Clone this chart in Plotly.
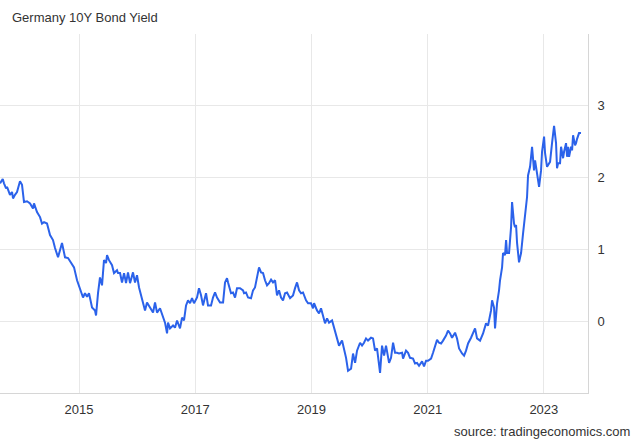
import plotly.graph_objects as go

# Decimal-year dates
years = [
    2013.640, 2013.687, 2013.709, 2013.744, 2013.761, 2013.812, 2013.847, 2013.864, 2013.898, 2013.933,
    2013.984, 2014.019, 2014.053, 2014.105, 2014.157, 2014.208, 2014.225, 2014.277, 2014.329, 2014.363,
    2014.398, 2014.449, 2014.501, 2014.552, 2014.587, 2014.639, 2014.707, 2014.759, 2014.811, 2014.880,
    2014.914, 2014.966, 2015.017, 2015.069, 2015.103, 2015.138, 2015.172, 2015.224, 2015.275, 2015.293,
    2015.327, 2015.361, 2015.396, 2015.430, 2015.465, 2015.482, 2015.516, 2015.568, 2015.602, 2015.654,
    2015.671, 2015.706, 2015.740, 2015.775, 2015.809, 2015.843, 2015.878, 2015.929, 2015.964, 2015.998,
    2016.033, 2016.084, 2016.136, 2016.170, 2016.222, 2016.274, 2016.308, 2016.343, 2016.394, 2016.446,
    2016.480, 2016.515, 2016.532, 2016.566, 2016.618, 2016.652, 2016.687, 2016.738, 2016.773, 2016.807,
    2016.842, 2016.876, 2016.911, 2016.945, 2016.979, 2017.031, 2017.065, 2017.100, 2017.134, 2017.186,
    2017.220, 2017.272, 2017.306, 2017.341, 2017.375, 2017.427, 2017.479, 2017.513, 2017.547, 2017.565,
    2017.616, 2017.651, 2017.685, 2017.719, 2017.771, 2017.823, 2017.840, 2017.874, 2017.909, 2017.960,
    2017.995, 2018.029, 2018.064, 2018.098, 2018.133, 2018.167, 2018.201, 2018.236, 2018.270, 2018.305,
    2018.339, 2018.374, 2018.408, 2018.442, 2018.477, 2018.511, 2018.546, 2018.580, 2018.632, 2018.683,
    2018.718, 2018.752, 2018.787, 2018.821, 2018.855, 2018.907, 2018.942, 2018.993, 2019.028, 2019.045,
    2019.096, 2019.131, 2019.165, 2019.200, 2019.234, 2019.269, 2019.303, 2019.355, 2019.389, 2019.441,
    2019.475, 2019.527, 2019.561, 2019.596, 2019.630, 2019.682, 2019.716, 2019.751, 2019.785, 2019.837,
    2019.871, 2019.905, 2019.940, 2019.974, 2020.026, 2020.060, 2020.095, 2020.129, 2020.181, 2020.215,
    2020.250, 2020.284, 2020.336, 2020.370, 2020.405, 2020.439, 2020.473, 2020.508, 2020.560, 2020.577,
    2020.628, 2020.663, 2020.697, 2020.749, 2020.783, 2020.818, 2020.852, 2020.904, 2020.938, 2020.973,
    2021.007, 2021.059, 2021.093, 2021.128, 2021.162, 2021.196, 2021.231, 2021.265, 2021.317, 2021.351,
    2021.386, 2021.420, 2021.472, 2021.506, 2021.541, 2021.592, 2021.627, 2021.661, 2021.696, 2021.747,
    2021.782, 2021.816, 2021.850, 2021.902, 2021.954, 2022.005, 2022.040, 2022.091, 2022.109, 2022.143,
    2022.160, 2022.195, 2022.229, 2022.246, 2022.281, 2022.298, 2022.332, 2022.350, 2022.367, 2022.401,
    2022.436, 2022.453, 2022.487, 2022.504, 2022.522, 2022.539, 2022.573, 2022.608, 2022.642, 2022.677,
    2022.711, 2022.728, 2022.763, 2022.797, 2022.814, 2022.831, 2022.849, 2022.883, 2022.918, 2022.952,
    2022.969, 2023.004, 2023.021, 2023.055, 2023.072, 2023.107, 2023.141, 2023.176, 2023.210, 2023.227,
    2023.245, 2023.279, 2023.296, 2023.331, 2023.348, 2023.382, 2023.400, 2023.417, 2023.434, 2023.468,
    2023.486, 2023.503, 2023.537, 2023.554, 2023.572, 2023.606, 2023.640,
]

# Yield (%)
yields = [
    1.92, 1.98, 1.92, 1.85, 1.87, 1.76, 1.80, 1.71, 1.76, 1.80,
    1.95, 1.90, 1.66, 1.67, 1.64, 1.57, 1.64, 1.52, 1.45, 1.36,
    1.38, 1.36, 1.20, 1.13, 1.02, 0.89, 1.09, 0.89, 0.88, 0.78,
    0.75, 0.57, 0.46, 0.33, 0.39, 0.34, 0.39, 0.19, 0.15, 0.08,
    0.39, 0.61, 0.50, 0.85, 0.81, 0.92, 0.85, 0.78, 0.67, 0.71,
    0.67, 0.67, 0.54, 0.67, 0.53, 0.68, 0.53, 0.68, 0.54, 0.64,
    0.47, 0.33, 0.15, 0.26, 0.18, 0.12, 0.26, 0.12, 0.18, 0.05,
    -0.02, -0.17, -0.02, -0.10, -0.06, -0.09, 0.01, -0.10, 0.05, 0.01,
    0.22, 0.29, 0.25, 0.32, 0.25, 0.33, 0.46, 0.36, 0.22, 0.39,
    0.22, 0.22, 0.33, 0.40, 0.33, 0.26, 0.26, 0.54, 0.60, 0.54,
    0.39, 0.40, 0.33, 0.46, 0.46, 0.43, 0.39, 0.40, 0.33, 0.32,
    0.43, 0.47, 0.60, 0.75, 0.68, 0.67, 0.57, 0.50, 0.53, 0.58,
    0.54, 0.57, 0.36, 0.43, 0.33, 0.29, 0.39, 0.40, 0.32, 0.36,
    0.46, 0.54, 0.43, 0.39, 0.40, 0.29, 0.25, 0.25, 0.18, 0.25,
    0.15, 0.11, 0.18, 0.08, -0.03, 0.04, -0.02, 0.01, -0.10, -0.27,
    -0.34, -0.27, -0.38, -0.51, -0.69, -0.66, -0.45, -0.58, -0.41, -0.30,
    -0.34, -0.30, -0.24, -0.27, -0.23, -0.24, -0.41, -0.38, -0.72, -0.34,
    -0.48, -0.34, -0.58, -0.51, -0.30, -0.44, -0.44, -0.45, -0.44, -0.52,
    -0.41, -0.44, -0.51, -0.52, -0.59, -0.58, -0.62, -0.56, -0.63, -0.55,
    -0.55, -0.52, -0.44, -0.34, -0.26, -0.30, -0.31, -0.27, -0.20, -0.13,
    -0.17, -0.23, -0.16, -0.24, -0.38, -0.45, -0.48, -0.41, -0.31, -0.23,
    -0.16, -0.10, -0.24, -0.27, -0.17, -0.03, -0.06, 0.15, 0.29, 0.19,
    -0.10, 0.25, 0.43, 0.57, 0.75, 0.95, 0.92, 1.13, 0.95, 0.95,
    1.31, 1.66, 1.36, 1.31, 1.34, 1.09, 0.82, 0.95, 1.22, 1.50,
    1.73, 2.03, 2.15, 2.43, 2.27, 2.10, 2.24, 2.06, 1.87, 2.10,
    2.36, 2.57, 2.34, 2.15, 2.17, 2.22, 2.48, 2.72, 2.48, 2.13,
    2.20, 2.20, 2.43, 2.27, 2.36, 2.48, 2.29, 2.43, 2.29, 2.43,
    2.38, 2.59, 2.45, 2.48, 2.54, 2.62, 2.62,
]

x_ticks = [2015, 2017, 2019, 2021, 2023]
y_ticks = [0, 1, 2, 3, 4]
y_ticktext = ["0", "1", "2", "3", ""]

title_text = "Germany 10Y Bond Yield"
source_text = "source: tradingeconomics.com"

FONT = "Liberation Sans, Arial, sans-serif"
GRID = "#e8e8e8"

fig = go.Figure()
fig.add_trace(go.Scatter(
    x=years, y=yields, mode="lines",
    line=dict(color="#2b62ea", width=2),
    hoverinfo="skip", showlegend=False,
))

fig.update_layout(
    width=640, height=444,
    margin=dict(l=0, r=52, t=34, b=51),
    paper_bgcolor="white", plot_bgcolor="white",
    font=dict(family=FONT, size=13, color="#333333"),
    title=dict(text=title_text, x=12 / 640, xanchor="left", xref="container",
               y=1 - 17 / 444, yanchor="middle", yref="container",
               font=dict(family=FONT, size=13, color="#333333")),
    annotations=[dict(
        text=source_text, xref="paper", yref="paper",
        x=632 / 588, y=-39 / 359, xanchor="right", yanchor="middle",
        showarrow=False, font=dict(family=FONT, size=13, color="#333333"),
    )],
)

fig.update_xaxes(
    range=[2013.64, 2023.76],
    tickmode="array", tickvals=x_ticks, ticktext=[str(v) for v in x_ticks],
    showgrid=True, gridcolor=GRID, gridwidth=1,
    showline=True, linecolor="#d6d6d6", linewidth=1,
    zeroline=False, ticks="", ticklabelstandoff=4,
    tickfont=dict(family=FONT, size=13, color="#333333"),
)
fig.update_yaxes(
    range=[-1, 4], side="right",
    tickmode="array", tickvals=y_ticks, ticktext=y_ticktext,
    showgrid=True, gridcolor=GRID, gridwidth=1,
    showline=True, linecolor="#d6d6d6", linewidth=1,
    zeroline=False, ticks="", ticklabelstandoff=6,
    tickfont=dict(family=FONT, size=13, color="#333333"),
)

fig.write_html(
    "out.html",
    config={"displayModeBar": False, "staticPlot": True},
    post_script="document.body.style.margin='0px';document.body.style.overflow='hidden';",
)
